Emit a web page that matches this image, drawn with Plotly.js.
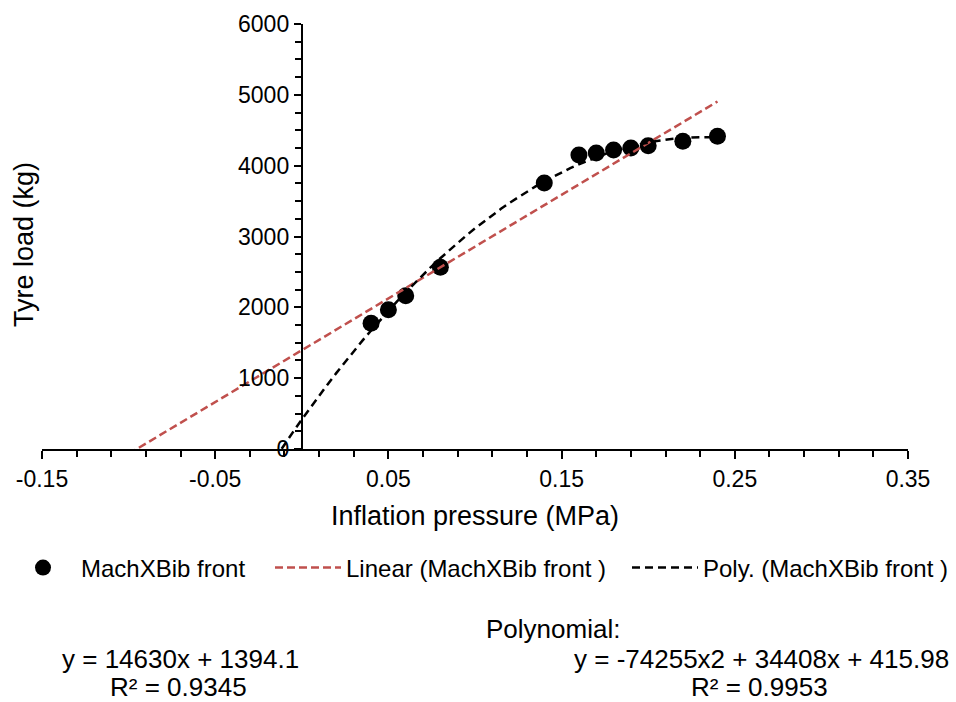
<!DOCTYPE html>
<html>
<head>
<meta charset="utf-8">
<script src="https://cdn.plot.ly/plotly-3.0.1.min.js"></script>
<style>html,body{margin:0;padding:0;background:#fff;}#chart{width:956px;height:702px;}</style>
</head>
<body>
<div id="chart"></div>
<script>
// Data
const pressure = [0.04, 0.05, 0.06, 0.08, 0.14, 0.16, 0.17, 0.18, 0.19, 0.20, 0.22, 0.24];
const tyreLoad = [1775, 1965, 2165, 2565, 3755, 4150, 4180, 4220, 4250, 4280, 4345, 4415];

// Trendline coefficients as printed on the chart
const linearCoef = [14630, 1394.1];           // y = a x + b
const polyCoef = [-74255, 34408, 415.98];      // y = a x^2 + b x + c
const linearLabel = ["y = 14630x + 1394.1", "R² = 0.9345"];
const polyLabel = ["Polynomial:", "y = -74255x2 + 34408x + 415.98", "R² = 0.9953"];
const seriesName = "MachXBib front";
const xTicks = [-0.15, -0.05, 0.05, 0.15, 0.25, 0.35];
const yTicks = [0, 1000, 2000, 3000, 4000, 5000, 6000];

// trendline curves evaluated from the printed equations, over the fitted range (extended backwards)
const linX = [-0.1, 0.24];
const linY = linX.map(x => linearCoef[0] * x + linearCoef[1]);
const polyX = [];
for (let x = -0.02; x <= 0.2401; x += 0.005) polyX.push(+x.toFixed(4));
const polyY = polyX.map(x => polyCoef[0] * x * x + polyCoef[1] * x + polyCoef[2]);

const FONT = "Liberation Sans, Arial, sans-serif";
const px = p => (p - 42) / 866;      // page x -> paper x
const py = p => (449 - p) / 425;     // page y -> paper y

const traces = [
  {x: pressure, y: tyreLoad, type: "scatter", mode: "markers", name: seriesName, legend: "legend",
   marker: {color: "#000", size: 17}},
  {x: linX, y: linY, type: "scatter", mode: "lines", name: "Linear (" + seriesName + " )", legend: "legend2",
   line: {color: "#C0504D", width: 2.5, dash: "8px,4px"}},
  {x: polyX, y: polyY, type: "scatter", mode: "lines", name: "Poly. (" + seriesName + " )", legend: "legend3",
   line: {color: "#000", width: 2.5, dash: "8px,5px"}}
];

const legBase = {orientation: "h", xanchor: "left", yanchor: "middle", y: py(568),
                 font: {size: 24, family: FONT, color: "#000"}, itemwidth: 66, bgcolor: "rgba(0,0,0,0)"};

const layout = {
  width: 956, height: 702,
  margin: {l: 42, r: 48, t: 24, b: 253, autoexpand: false},
  paper_bgcolor: "#fff", plot_bgcolor: "#fff",
  font: {family: FONT, color: "#000", size: 23},
  showlegend: true,
  legend: Object.assign({}, legBase, {x: px(5)}),
  legend2: Object.assign({}, legBase, {x: px(270)}),
  legend3: Object.assign({}, legBase, {x: px(627)}),
  xaxis: {
    range: [-0.15, 0.35], tickvals: xTicks, ticktext: xTicks.map(String), automargin: false,
    showline: true, linecolor: "#000", linewidth: 2, ticks: "outside", ticklen: 8, tickwidth: 2, tickcolor: "#000",
    minor: {dtick: 0.02, tick0: -0.15, ticks: "outside", ticklen: 6, tickwidth: 2, tickcolor: "#000", showgrid: false},
    showgrid: false, zeroline: false, tickfont: {size: 23},
    title: {text: "Inflation pressure (MPa)", font: {size: 27}, standoff: 16},
    fixedrange: true
  },
  yaxis: {
    range: [0, 6000], tickvals: yTicks, ticktext: yTicks.map(String), automargin: false,
    anchor: "free", position: 0.3,
    showline: true, linecolor: "#000", linewidth: 2, ticks: "outside", ticklen: 7, tickwidth: 2, tickcolor: "#000",
    minor: {dtick: 250, ticks: "outside", ticklen: 6, tickwidth: 2, tickcolor: "#000", showgrid: false},
    showgrid: false, zeroline: false, tickfont: {size: 23},
    fixedrange: true
  },
  annotations: [
    {text: "Tyre load (kg)", xref: "paper", yref: "paper", x: px(24), y: py(245), textangle: -90,
     showarrow: false, font: {size: 27}, xanchor: "center", yanchor: "middle"},
    {text: linearLabel[0], xref: "paper", yref: "paper", x: px(180), y: py(659),
     showarrow: false, font: {size: 26}, xanchor: "center", yanchor: "middle"},
    {text: linearLabel[1], xref: "paper", yref: "paper", x: px(178), y: py(687),
     showarrow: false, font: {size: 26}, xanchor: "center", yanchor: "middle"},
    {text: polyLabel[0], xref: "paper", yref: "paper", x: px(553), y: py(629),
     showarrow: false, font: {size: 26}, xanchor: "center", yanchor: "middle"},
    {text: polyLabel[1], xref: "paper", yref: "paper", x: px(761), y: py(659),
     showarrow: false, font: {size: 26}, xanchor: "center", yanchor: "middle"},
    {text: polyLabel[2], xref: "paper", yref: "paper", x: px(759), y: py(687),
     showarrow: false, font: {size: 26}, xanchor: "center", yanchor: "middle"}
  ]
};

Plotly.newPlot("chart", traces, layout, {displayModeBar: false, staticPlot: true});
</script>
</body>
</html>
